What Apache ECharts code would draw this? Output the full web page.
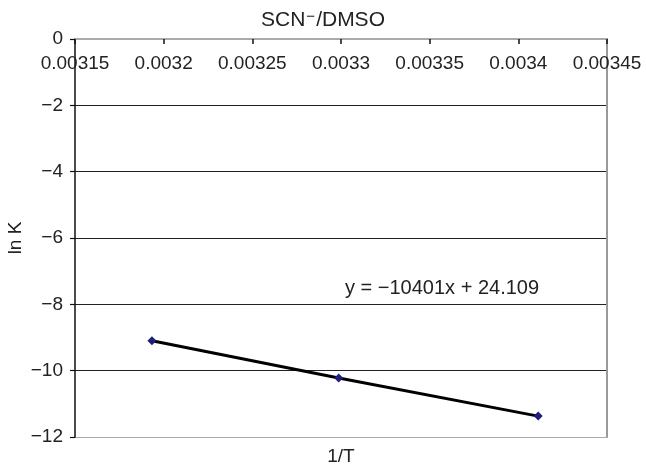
<!DOCTYPE html>
<html>
<head>
<meta charset="utf-8">
<title>SCN-/DMSO</title>
<script src="https://cdn.jsdelivr.net/npm/echarts@6/dist/echarts.min.js"></script>
<style>
  html, body { margin: 0; padding: 0; background: #fff; }
  #main { width: 646px; height: 466px; }
</style>
</head>
<body>
<div id="main"></div>
<script>
'use strict';

// 1/T values (K^-1) and ln K
let invT = [0.0031934, 0.0032987, 0.0034112];
let lnK = [-9.10, -10.22, -11.37];
let trendText = 'y = \u221210401x + 24.109';
let xTicks = { min: 0.00315, max: 0.00345, step: 0.00005 };
let yTicks = { min: -12, max: 0, step: 2 };

let fontFamily = '"Liberation Sans", Arial, Helvetica, sans-serif';

let minusFmt = function(v){
    return v < 0 ? '\u2212' + (-v) : String(v);
};

let myChart = echarts.init(document.getElementById('main'));

let points = invT.map(function(x, i){
    return [x, lnK[i]];
});

let option = {
    animation: false,
    backgroundColor: '#fff',
    textStyle: { fontFamily: fontFamily },
    title: {
        text: 'SCN{sup|\u2212}/DMSO',
        left: 'center',
        top: 4,
        textStyle: {
            fontSize: 21,
            fontWeight: 'normal',
            color: '#222',
            fontFamily: fontFamily,
            rich: {
                sup: { fontSize: 15, verticalAlign: 'top', padding: [0, 1, 8, 1], color: '#222' }
            }
        }
    },
    grid: { left: 75, right: 39, top: 39, bottom: 29, outerBoundsMode: 'none', containLabel: false },
    xAxis: [
        {
            type: 'value',
            position: 'top',
            min: xTicks.min,
            max: xTicks.max,
            interval: xTicks.step,
            axisLine: { show: true, lineStyle: { color: '#111', width: 1.5 } },
            axisTick: { show: true, inside: true, length: 5, lineStyle: { color: '#111', width: 1.5 } },
            axisLabel: {
                inside: true,
                margin: 15,
                fontSize: 19,
                color: '#222',
                fontFamily: fontFamily,
                formatter: function(v){ return String(parseFloat(v.toFixed(5))); }
            },
            splitLine: { show: false }
        },
        {
            type: 'value',
            position: 'bottom',
            min: xTicks.min,
            max: xTicks.max,
            name: '1/T',
            nameLocation: 'middle',
            nameGap: 10,
            nameMoveOverlap: false,
            nameTextStyle: { fontSize: 19, color: '#222', fontFamily: fontFamily },
            axisLine: { show: true, lineStyle: { color: '#aaa', width: 2 } },
            axisTick: { show: false },
            axisLabel: { show: false },
            splitLine: { show: false }
        }
    ],
    yAxis: [
        {
            type: 'value',
            min: yTicks.min,
            max: yTicks.max,
            interval: yTicks.step,
            name: 'ln K',
            nameLocation: 'middle',
            nameGap: 50,
            nameMoveOverlap: false,
            nameTextStyle: { fontSize: 19, color: '#222', fontFamily: fontFamily },
            axisLine: { show: true, lineStyle: { color: '#111', width: 1.5 } },
            axisTick: { show: true, length: 5, lineStyle: { color: '#111', width: 1.2 } },
            axisLabel: {
                margin: 12,
                fontSize: 19,
                color: '#222',
                fontFamily: fontFamily,
                formatter: minusFmt
            },
            splitLine: {
                show: true,
                lineStyle: { color: ['#aaa', '#222', '#222', '#222', '#222', '#222', '#111'], width: 1 }
            }
        },
        {
            type: 'value',
            position: 'right',
            min: yTicks.min,
            max: yTicks.max,
            axisLine: { show: true, lineStyle: { color: '#999', width: 2 } },
            axisTick: { show: false },
            axisLabel: { show: false },
            splitLine: { show: false }
        }
    ],
    graphic: [
        {
            type: 'text',
            left: 345,
            top: 278,
            style: {
                text: trendText,
                fontSize: 20,
                fill: '#222',
                fontFamily: fontFamily
            }
        }
    ],
    series: [
        {
            type: 'line',
            xAxisIndex: 0,
            yAxisIndex: 0,
            data: points,
            symbol: 'diamond',
            symbolSize: 9,
            showAllSymbol: true,
            itemStyle: { color: '#1f1f7a' },
            lineStyle: { color: '#000', width: 3 },
            z: 5
        }
    ]
};

myChart.setOption(option);
</script>
</body>
</html>
